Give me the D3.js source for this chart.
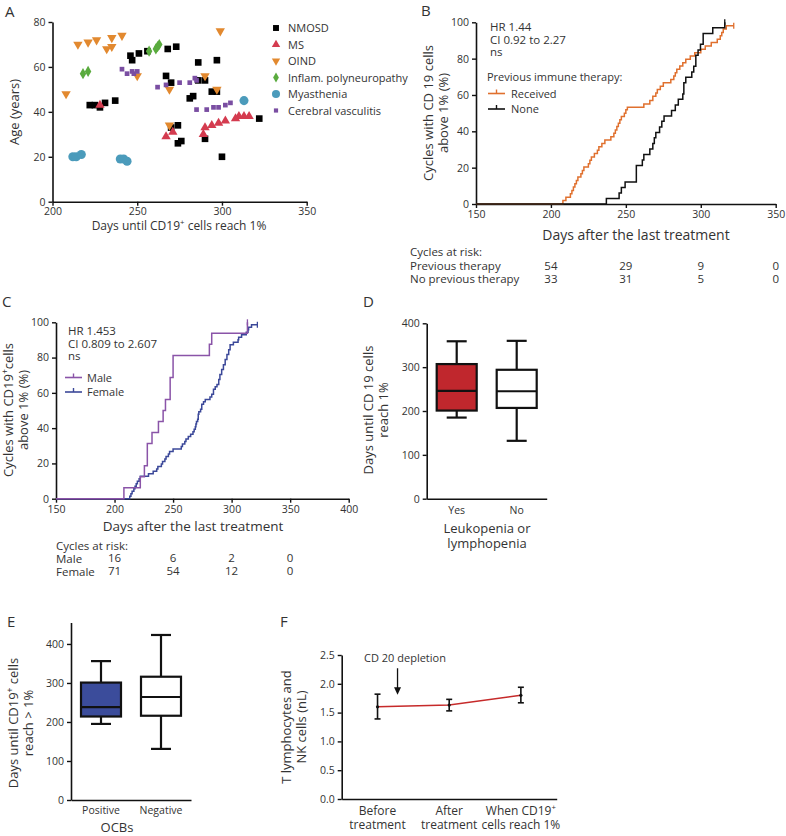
<!DOCTYPE html>
<html><head><meta charset="utf-8">
<script src="https://cdn.jsdelivr.net/npm/d3@7"></script>
<style>
body{margin:0;background:#fff;}
</style></head><body>
<svg id="fig" width="786" height="836"></svg>
<script>
// ---------------- DATA ----------------
// Panel A scatter
const scatterCategories = ["NMOSD","MS","OIND","Inflam. polyneuropathy","Myasthenia","Cerebral vasculitis"];
const nmosdData = [[222,43],[225,43],[228,42],[231,44],[237,45],[246,65],[247,63],[251,66],[256,67],[268,68],[273,69],[267,56],[270,53],[270,33],[274,34],[274,26],[276,27],[286,62],[297,63],[286,54],[290,54],[281,46],[283,47],[294,49],[297,49],[290,28],[300,20],[322,37]];
const msData = [[228,43],[267,29],[271,31],[289,30],[290,33],[294,34],[298,35],[302,36],[308,37],[310,38],[313,38],[316,38]];
const oindData = [[208,48],[215,70],[221,71],[226,72],[232,68],[235,69],[235,73],[241,74],[250,56],[269,50],[269,34],[299,76],[290,56],[297,50]];
const inflamData = [[218,57],[221,58],[257,67],[261,68],[262,69],[263,70]];
const myastheniaData = [[212,20],[214,20],[217,21],[240,19],[242,19],[244,18],[313,45]];
const vasculitisData = [[241,59],[244,57],[247,58],[248,57],[250,58],[262,51],[267,52],[275,53],[281,53],[284,55],[285,54],[285,41],[291,41],[295,42],[298,42],[302,43],[305,44]];
const aXTicks = [200,250,300,350];
const aYTicks = [0,20,40,60,80];

// Panel B Kaplan-Meier (day, cumulative %)
const receivedSteps = [[208,1.9],[210,3.7],[213,5.6],[214,7.4],[215,9.3],[216,11.1],[217,13],[218,14.8],[220,16.7],[221,18.5],[222,20.4],[225,22.2],[226,24.1],[227,25.9],[229,27.8],[231,29.6],[232,31.5],[234,33.3],[236,35.2],[240,37],[242,38.9],[243,40.7],[244,42.6],[245,44.4],[246,46.3],[247,48.1],[249,50],[250,51.9],[251,53.2],[262,55],[266,57],[268,59.3],[270,61.1],[271,63],[273,64.8],[275,66.7],[280,68.5],[282,70.4],[283,72.2],[284,74.1],[286,75.9],[288,77.8],[290,79.6],[293,81.5],[296,83.3],[300,85.2],[303,87],[307,88.9],[311,90.7],[313,92.6],[314,94.4],[315,96.3],[317,98.1]];
const receivedEnd = 322;
const noneSteps = [[237,3],[245.5,6.1],[247,9.1],[249.5,12.1],[257,21.2],[261,24.2],[262,27.3],[266,30.3],[268,33.3],[269,36.4],[270,39.4],[272.5,42.4],[274,45.5],[275.5,48.5],[280.5,51.5],[283,54.5],[285,57.6],[288,60.6],[288.7,66.7],[290,69.7],[294,72.7],[295.3,75.8],[296.7,81.8],[298.2,84.8],[299.8,87.9],[301.6,93.9],[308,97],[316,100]];
const noneEnd = 316;
const kmBXTicks = [150,200,250,300,350];
const kmYTicks = [0,20,40,60,80,100];
const riskDays = [200,250,300,350];
const riskPrevious = [54,29,9,0];
const riskNoPrevious = [33,31,5,0];

// Panel C Kaplan-Meier
const maleSteps = [[208,6.25],[222,12.5],[225.5,18.75],[228,31.25],[232,37.5],[237.5,43.75],[241.5,50],[243.5,56.25],[247.5,68.75],[250,81.25],[281,87.5],[283,93.75],[313.5,100]];
const maleEnd = 313.5;
const femaleSteps = [[213,1.4],[214,2.8],[215,4.2],[216.5,5.6],[217.5,7],[218.5,8.5],[219.5,9.9],[221,11.3],[222,12.7],[229,14.1],[233,15.5],[236,16.9],[237,18.3],[240,19.7],[241,21.1],[243,22.5],[244,23.9],[246,25.4],[247,26.8],[250,28.2],[257,29.6],[258,31],[260,32.4],[261,33.8],[263,35.2],[265,36.6],[267,38],[268,39.4],[269,40.8],[269.5,42.3],[270,43.7],[271,45.1],[271.5,47.9],[272,49.3],[273.5,50.7],[274.5,53.5],[276,54.9],[277.5,56.3],[281.5,57.7],[283,59.2],[284.5,62],[286,63.4],[287.5,64.8],[289,67.6],[290,70.4],[291.5,73.2],[293,76],[294.5,78.9],[296,81.7],[297.5,84.5],[298.7,87.3],[301.5,88.7],[305.5,90.1],[306,91.5],[308.5,92.9],[312.5,94.4],[314,95.8],[314.5,97.2],[317,98.6]];
const femaleEnd = 322;
const kmCXTicks = [150,200,250,300,350,400];
const riskMale = [16,6,2,0];
const riskFemale = [71,54,12,0];

// Panel D box plot
const leukoCategories = ["Yes","No"];
const leukoMin = [185,132];
const leukoQ1 = [201,207];
const leukoMedian = [246,245];
const leukoQ3 = [307,294];
const leukoMax = [359,360];
const boxYTicks = [0,100,200,300,400];

// Panel E box plot
const ocbCategories = ["Positive","Negative"];
const ocbMin = [195,131];
const ocbQ1 = [214,216];
const ocbMedian = [238,264];
const ocbQ3 = [301,316];
const ocbMax = [356,423];

// Panel F line with error bars
const fCategories = ["Before treatment","After treatment","When CD19+ cells reach 1%"];
const fMeans = [1.60,1.63,1.80];
const fLow = [1.39,1.53,1.67];
const fHigh = [1.82,1.73,1.94];
const fYTicks = [0,0.5,1.0,1.5,2.0,2.5];

// ---------------- HELPERS ----------------
const FONT = '"Open Sans", "Noto Sans", sans-serif';
const TXT = "#333";
const TICK_FS = 10.5;
const svg = d3.select("#fig");

function styleAxis(g) {
  g.selectAll(".domain").attr("stroke","#111").attr("stroke-width",1.6);
  g.selectAll(".tick line").attr("stroke","#111").attr("stroke-width",1.4);
  g.selectAll(".tick text").attr("fill",TXT).style("font-size",TICK_FS+"px").style("font-family",FONT);
}
function label(parent, x, y, content, opts) {
  opts = opts || {};
  const size = opts.size || 12;
  const t = parent.append("text").attr("x",x).attr("y",y)
    .attr("text-anchor", opts.anchor || "start")
    .style("font-size", size+"px").style("font-family",FONT).attr("fill", opts.fill || TXT);
  if (opts.rotate) t.attr("transform",`rotate(-90,${x},${y})`);
  const segs = typeof content === "string" ? [{t:content}] : content;
  let up = false;
  segs.forEach(s => {
    const ts = t.append("tspan").text(s.t);
    if (s.sup) { ts.attr("dy", (-0.4*size)+"px").style("font-size",(0.65*size)+"px"); up = true; }
    else if (up) { ts.attr("dy", (0.4*size)+"px"); up = false; }
  });
  return t;
}
function kmLine(g, steps, end, x, y, color) {
  const last = steps[steps.length-1][1];
  const pts = [[150,0]].concat(steps).concat([[end,last]]);
  g.append("path").attr("d", d3.line().x(d=>x(d[0])).y(d=>y(d[1])).curve(d3.curveStepAfter)(pts))
    .attr("fill","none").attr("stroke",color).attr("stroke-width",1.5);
  g.append("line").attr("x1",x(end)).attr("x2",x(end)).attr("y1",y(last)-3).attr("y2",y(last)+3)
    .attr("stroke",color).attr("stroke-width",1.3);
}
function legendLine(g, x1, x2, yy, color) {
  g.append("line").attr("x1",x1).attr("x2",x2).attr("y1",yy).attr("y2",yy).attr("stroke",color).attr("stroke-width",1.6);
  g.append("line").attr("x1",(x1+x2)/2).attr("x2",(x1+x2)/2).attr("y1",yy-4).attr("y2",yy).attr("stroke",color).attr("stroke-width",1.4);
}
function boxPlot(g, cats, mins, q1s, meds, q3s, maxs, xs, ys, fill) {
  cats.forEach((c,i) => {
    const cx = xs(c) + xs.bandwidth()/2, bw = xs.bandwidth();
    const sw = 2.2, col = "#111";
    g.append("line").attr("x1",cx).attr("x2",cx).attr("y1",ys(maxs[i])).attr("y2",ys(q3s[i])).attr("stroke",col).attr("stroke-width",sw);
    g.append("line").attr("x1",cx).attr("x2",cx).attr("y1",ys(q1s[i])).attr("y2",ys(mins[i])).attr("stroke",col).attr("stroke-width",sw);
    g.append("line").attr("x1",cx-10).attr("x2",cx+10).attr("y1",ys(maxs[i])).attr("y2",ys(maxs[i])).attr("stroke",col).attr("stroke-width",sw);
    g.append("line").attr("x1",cx-10).attr("x2",cx+10).attr("y1",ys(mins[i])).attr("y2",ys(mins[i])).attr("stroke",col).attr("stroke-width",sw);
    g.append("rect").attr("x",xs(c)).attr("width",bw).attr("y",ys(q3s[i])).attr("height",ys(q1s[i])-ys(q3s[i]))
      .attr("fill",fill[i]).attr("stroke",col).attr("stroke-width",sw);
    g.append("line").attr("x1",xs(c)).attr("x2",xs(c)+bw).attr("y1",ys(meds[i])).attr("y2",ys(meds[i])).attr("stroke",col).attr("stroke-width",sw);
  });
}

// ---------------- PANEL A ----------------
const gA = svg.append("g");
const xA = d3.scaleLinear().domain([200,350]).range([52.5,306.7]);
const yA = d3.scaleLinear().domain([0,80]).range([201.7,22]);
gA.append("g").attr("transform",`translate(0,${yA(0)})`)
  .call(d3.axisBottom(xA).tickValues(aXTicks).tickSize(4).tickPadding(2).tickSizeOuter(0)).call(styleAxis);
gA.append("g").attr("transform",`translate(${xA(200)},0)`)
  .call(d3.axisLeft(yA).tickValues(aYTicks).tickSize(4).tickSizeOuter(0)).call(styleAxis);
label(gA, 5, 17, "A", {size:15});
label(gA, 179, 229.5, [{t:"Days until CD19"},{t:"+",sup:true},{t:" cells reach 1%"}], {size:12, anchor:"middle"});
label(gA, 19, 112, "Age (years)", {size:13, anchor:"middle", rotate:true});

const aSeries = [
  {data:nmosdData, type:d3.symbolSquare, size:44, color:"#000", rot:0},
  {data:msData, type:d3.symbolTriangle, size:38, color:"#d43b4f", rot:0},
  {data:oindData, type:d3.symbolTriangle, size:38, color:"#e2892f", rot:180},
  {data:inflamData, type:d3.symbolDiamond, size:36, color:"#5aab3e", rot:0},
  {data:myastheniaData, type:d3.symbolCircle, size:64, color:"#4b9bbb", rot:0},
  {data:vasculitisData, type:d3.symbolSquare, size:22, color:"#7a4ea2", rot:0}
];
aSeries.forEach(s => {
  gA.selectAll(null).data(s.data).enter().append("path")
    .attr("d", d3.symbol().type(s.type).size(s.size)())
    .attr("transform", d => `translate(${xA(d[0])},${yA(d[1])}) rotate(${s.rot})`)
    .attr("fill", s.color);
});
scatterCategories.forEach((c,i) => {
  const s = aSeries[i];
  const ly = 28 + i*16.5;
  gA.append("path").attr("d", d3.symbol().type(s.type).size(s.size*0.8)())
    .attr("transform", `translate(276,${ly}) rotate(${s.rot})`).attr("fill", s.color);
  label(gA, 288, ly+4, c, {size:11});
});

// ---------------- PANEL B ----------------
const gB = svg.append("g");
const xB = d3.scaleLinear().domain([150,350]).range([476,775.7]);
const yB = d3.scaleLinear().domain([0,100]).range([204,22.3]);
gB.append("g").attr("transform",`translate(0,${yB(0)})`)
  .call(d3.axisBottom(xB).tickValues(kmBXTicks).tickSize(4).tickSizeOuter(0)).call(styleAxis);
gB.append("g").attr("transform",`translate(${xB(150)},0)`)
  .call(d3.axisLeft(yB).tickValues(kmYTicks).tickSize(4).tickSizeOuter(0)).call(styleAxis);
kmLine(gB, receivedSteps, receivedEnd, xB, yB, "#e0702e");
kmLine(gB, noneSteps, noneEnd, xB, yB, "#111");
label(gB, 421, 16, "B", {size:15});
label(gB, 490, 31, "HR 1.44", {size:11.5});
label(gB, 490, 44, "CI 0.92 to 2.27", {size:11.5});
label(gB, 490, 56, "ns", {size:11.5});
label(gB, 487, 81, "Previous immune therapy:", {size:11});
legendLine(gB, 488, 505, 93.5, "#e0702e");
label(gB, 511, 97.5, "Received", {size:11});
legendLine(gB, 488, 505, 109, "#111");
label(gB, 511, 113, "None", {size:11});
label(gB, 636, 240, "Days after the last treatment", {size:14, anchor:"middle"});
label(gB, 432.5, 113, "Cycles with CD 19 cells", {size:13, anchor:"middle", rotate:true});
label(gB, 447.5, 113, "above 1% (%)", {size:13, anchor:"middle", rotate:true});
label(gB, 410, 256, "Cycles at risk:", {size:11.5});
label(gB, 410, 270, "Previous therapy", {size:11.5});
label(gB, 410, 283, "No previous therapy", {size:11.5});
riskDays.forEach((d,i) => {
  label(gB, xB(d), 270, String(riskPrevious[i]), {size:11.5, anchor:"middle"});
  label(gB, xB(d), 283, String(riskNoPrevious[i]), {size:11.5, anchor:"middle"});
});

// ---------------- PANEL C ----------------
const gC = svg.append("g");
const xC = d3.scaleLinear().domain([150,400]).range([56,348.7]);
const yC = d3.scaleLinear().domain([0,100]).range([498.7,322.3]);
gC.append("g").attr("transform",`translate(0,${yC(0)})`)
  .call(d3.axisBottom(xC).tickValues(kmCXTicks).tickSize(4).tickSizeOuter(0)).call(styleAxis);
gC.append("g").attr("transform",`translate(${xC(150)},0)`)
  .call(d3.axisLeft(yC).tickValues(kmYTicks).tickSize(4).tickSizeOuter(0)).call(styleAxis);
kmLine(gC, femaleSteps, femaleEnd, xC, yC, "#3b4899");
kmLine(gC, maleSteps, maleEnd, xC, yC, "#8a54a8");
label(gC, 2, 307, "C", {size:15});
label(gC, 68, 335, "HR 1.453", {size:11.5});
label(gC, 68, 347.5, "CI 0.809 to 2.607", {size:11.5});
label(gC, 68, 359.5, "ns", {size:11.5});
legendLine(gC, 65, 82, 377.5, "#8a54a8");
label(gC, 87, 381.5, "Male", {size:11});
legendLine(gC, 65, 82, 392, "#3b4899");
label(gC, 87, 396, "Female", {size:11});
label(gC, 193, 531, "Days after the last treatment", {size:13.5, anchor:"middle"});
label(gC, 13, 410, [{t:"Cycles with CD19"},{t:"+",sup:true},{t:"cells"}], {size:13, anchor:"middle", rotate:true});
label(gC, 28, 410, "above 1% (%)", {size:13, anchor:"middle", rotate:true});
label(gC, 56, 550, "Cycles at risk:", {size:11.5});
label(gC, 56, 563, "Male", {size:11.5});
label(gC, 56, 576, "Female", {size:11.5});
riskDays.forEach((d,i) => {
  label(gC, xC(d), 562, String(riskMale[i]), {size:11.5, anchor:"middle"});
  label(gC, xC(d), 575, String(riskFemale[i]), {size:11.5, anchor:"middle"});
});

// ---------------- PANEL D ----------------
const gD = svg.append("g");
const yD = d3.scaleLinear().domain([0,400]).range([498.7,323.3]);
const xD = d3.scaleBand().domain(leukoCategories).range([426.7,546.7]).paddingInner(1/3).paddingOuter(1/6);
gD.append("g").attr("transform",`translate(0,${yD(0)})`)
  .call(d3.axisBottom(xD).tickSize(0).tickPadding(8).tickSizeOuter(0)).call(styleAxis);
gD.append("g").attr("transform",`translate(426.7,0)`)
  .call(d3.axisLeft(yD).tickValues(boxYTicks).tickSize(4).tickSizeOuter(0)).call(styleAxis);
boxPlot(gD, leukoCategories, leukoMin, leukoQ1, leukoMedian, leukoQ3, leukoMax, xD, yD, ["#c0272d","#fff"]);
label(gD, 363, 307, "D", {size:15});
label(gD, 487, 533, "Leukopenia or", {size:13, anchor:"middle"});
label(gD, 487, 548, "lymphopenia", {size:13, anchor:"middle"});
label(gD, 373, 410, "Days until CD 19 cells", {size:13, anchor:"middle", rotate:true});
label(gD, 388, 410, "reach 1%", {size:13, anchor:"middle", rotate:true});

// ---------------- PANEL E ----------------
const gE = svg.append("g");
const yE = d3.scaleLinear().domain([0,455]).range([800,622.5]);
const xE = d3.scaleBand().domain(ocbCategories).range([71,191]).paddingInner(1/3).paddingOuter(1/6);
gE.append("g").attr("transform",`translate(0,${yE(0)})`)
  .call(d3.axisBottom(xE).tickSize(0).tickPadding(7).tickSizeOuter(0)).call(styleAxis);
gE.append("g").attr("transform",`translate(71,0)`)
  .call(d3.axisLeft(yE).tickValues(boxYTicks).tickSize(4).tickSizeOuter(0)).call(styleAxis);
boxPlot(gE, ocbCategories, ocbMin, ocbQ1, ocbMedian, ocbQ3, ocbMax, xE, yE, ["#3b4c9b","#fff"]);
label(gE, 7, 627, "E", {size:15});
label(gE, 117, 831.5, "OCBs", {size:13, anchor:"middle"});
label(gE, 18, 723, [{t:"Days until CD19"},{t:"+",sup:true},{t:" cells"}], {size:13, anchor:"middle", rotate:true});
label(gE, 33, 723, "reach > 1%", {size:13, anchor:"middle", rotate:true});

// ---------------- PANEL F ----------------
const gF = svg.append("g");
const yF = d3.scaleLinear().domain([0,2.5]).range([799,655]);
const xF = d3.scalePoint().domain(fCategories).range([341.7,556.7]).padding(0.5);
gF.append("g").attr("transform",`translate(0,${yF(0)})`)
  .call(d3.axisBottom(xF).tickSize(0).tickFormat("").tickSizeOuter(0)).call(styleAxis);
gF.append("g").attr("transform",`translate(341.7,0)`)
  .call(d3.axisLeft(yF).tickValues(fYTicks).tickFormat(d3.format(".1f")).tickSize(4).tickSizeOuter(0)).call(styleAxis);
const fLabels = [[[{t:"Before"}],[{t:"treatment"}]],[[{t:"After"}],[{t:"treatment"}]],[[{t:"When CD19"},{t:"+",sup:true}],[{t:"cells reach 1%"}]]];
fCategories.forEach((c,i) => {
  label(gF, xF(c), 815, fLabels[i][0], {size:12, anchor:"middle"});
  label(gF, xF(c), 829, fLabels[i][1], {size:12, anchor:"middle"});
});
gF.append("path").attr("d", d3.line().x((d,i)=>xF(fCategories[i])).y(d=>yF(d))(fMeans))
  .attr("fill","none").attr("stroke","#c62a2a").attr("stroke-width",1.5);
fCategories.forEach((c,i) => {
  const cx = xF(c);
  gF.append("line").attr("x1",cx).attr("x2",cx).attr("y1",yF(fHigh[i])).attr("y2",yF(fLow[i])).attr("stroke","#111").attr("stroke-width",1.6);
  gF.append("line").attr("x1",cx-3).attr("x2",cx+3).attr("y1",yF(fHigh[i])).attr("y2",yF(fHigh[i])).attr("stroke","#111").attr("stroke-width",1.6);
  gF.append("line").attr("x1",cx-3).attr("x2",cx+3).attr("y1",yF(fLow[i])).attr("y2",yF(fLow[i])).attr("stroke","#111").attr("stroke-width",1.6);
  gF.append("circle").attr("cx",cx).attr("cy",yF(fMeans[i])).attr("r",1.6).attr("fill","#111");
});
const arrowX = xF(fCategories[0]) + 20;
gF.append("line").attr("x1",arrowX).attr("x2",arrowX).attr("y1",yF(2.27)).attr("y2",yF(1.92)).attr("stroke","#111").attr("stroke-width",1.3);
gF.append("path").attr("d",`M${arrowX-3.5},${yF(1.94)} L${arrowX+3.5},${yF(1.94)} L${arrowX},${yF(1.81)} Z`).attr("fill","#111");
label(gF, 405, 662, "CD 20 depletion", {size:11, anchor:"middle"});
label(gF, 280, 627, "F", {size:15});
label(gF, 291, 727, "T lymphocytes and", {size:13, anchor:"middle", rotate:true});
label(gF, 306, 727, "NK cells (nL)", {size:13, anchor:"middle", rotate:true});
</script></body></html>
